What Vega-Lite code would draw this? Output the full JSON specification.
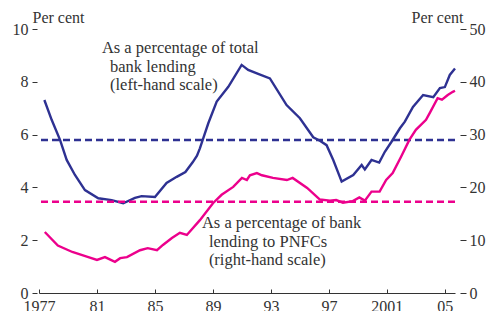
{
  "$schema": "https://vega.github.io/schema/vega-lite/v6.json",
  "width": 416,
  "height": 264,
  "autosize": {"type": "none"},
  "padding": {"left": 39, "top": 29, "right": 37, "bottom": 18},
  "background": "white",
  "config": {
    "view": {"stroke": null},
    "font": "Liberation Serif",
    "axis": {"labelFont": "Liberation Serif", "titleFont": "Liberation Serif", "labelColor": "#333", "titleColor": "#333", "tickColor": "#333", "domainColor": "#333", "grid": false, "labelFontSize": 16, "titleFontSize": 16, "titleFontWeight": "normal"}
  },
  "datasets": {
    "blue": [
      {"year": 1977.37, "v": 7.31}, {"year": 1977.88, "v": 6.55}, {"year": 1978.45, "v": 5.8}, {"year": 1978.91, "v": 5.04},
      {"year": 1979.48, "v": 4.47}, {"year": 1980.17, "v": 3.9}, {"year": 1981.09, "v": 3.59}, {"year": 1982.01, "v": 3.52},
      {"year": 1982.81, "v": 3.4}, {"year": 1983.62, "v": 3.6}, {"year": 1984.08, "v": 3.67}, {"year": 1985.0, "v": 3.64},
      {"year": 1985.8, "v": 4.17}, {"year": 1986.5, "v": 4.4}, {"year": 1987.1, "v": 4.58}, {"year": 1987.6, "v": 4.95},
      {"year": 1987.9, "v": 5.2}, {"year": 1988.1, "v": 5.48}, {"year": 1988.33, "v": 5.86}, {"year": 1988.68, "v": 6.43},
      {"year": 1989.26, "v": 7.25}, {"year": 1990.06, "v": 7.81}, {"year": 1990.98, "v": 8.64}, {"year": 1991.43, "v": 8.45},
      {"year": 1992.12, "v": 8.3}, {"year": 1992.93, "v": 8.13}, {"year": 1994.08, "v": 7.12}, {"year": 1995.0, "v": 6.62},
      {"year": 1995.92, "v": 5.9}, {"year": 1996.38, "v": 5.77}, {"year": 1996.84, "v": 5.6}, {"year": 1997.3, "v": 5.04},
      {"year": 1997.88, "v": 4.22}, {"year": 1998.68, "v": 4.47}, {"year": 1999.26, "v": 4.85}, {"year": 1999.48, "v": 4.68},
      {"year": 1999.94, "v": 5.04}, {"year": 2000.47, "v": 4.94}, {"year": 2000.86, "v": 5.35}, {"year": 2001.32, "v": 5.73},
      {"year": 2001.9, "v": 6.24}, {"year": 2002.24, "v": 6.49}, {"year": 2002.8, "v": 7.05}, {"year": 2003.5, "v": 7.5},
      {"year": 2004.2, "v": 7.42}, {"year": 2004.66, "v": 7.76}, {"year": 2005.0, "v": 7.8}, {"year": 2005.34, "v": 8.26},
      {"year": 2005.7, "v": 8.5}
    ],
    "pink": [
      {"year": 1977.4, "r": 11.55}, {"year": 1978.3, "r": 9.0}, {"year": 1979.3, "r": 7.77}, {"year": 1980.3, "r": 6.9},
      {"year": 1981.0, "r": 6.25}, {"year": 1981.55, "r": 6.8}, {"year": 1982.24, "r": 5.9}, {"year": 1982.6, "r": 6.6},
      {"year": 1983.07, "r": 6.8}, {"year": 1983.97, "r": 8.1}, {"year": 1984.5, "r": 8.5}, {"year": 1985.14, "r": 8.1},
      {"year": 1985.55, "r": 9.1}, {"year": 1986.17, "r": 10.4}, {"year": 1986.72, "r": 11.4}, {"year": 1987.2, "r": 11.0},
      {"year": 1988.1, "r": 13.8}, {"year": 1989.0, "r": 17.0}, {"year": 1989.6, "r": 18.6}, {"year": 1990.4, "r": 20.1},
      {"year": 1991.0, "r": 21.8}, {"year": 1991.34, "r": 21.4}, {"year": 1991.55, "r": 22.3}, {"year": 1992.03, "r": 22.7},
      {"year": 1992.38, "r": 22.3}, {"year": 1993.14, "r": 21.8}, {"year": 1994.1, "r": 21.4}, {"year": 1994.5, "r": 21.8},
      {"year": 1995.5, "r": 19.9}, {"year": 1996.38, "r": 17.7}, {"year": 1997.07, "r": 17.5}, {"year": 1997.5, "r": 17.6},
      {"year": 1997.97, "r": 17.1}, {"year": 1998.65, "r": 17.4}, {"year": 1999.1, "r": 18.1}, {"year": 1999.48, "r": 17.5},
      {"year": 1999.94, "r": 19.2}, {"year": 2000.5, "r": 19.2}, {"year": 2000.95, "r": 21.4}, {"year": 2001.4, "r": 22.7},
      {"year": 2001.98, "r": 25.8}, {"year": 2002.55, "r": 29.0}, {"year": 2003.0, "r": 30.9}, {"year": 2003.7, "r": 32.8},
      {"year": 2004.0, "r": 34.3}, {"year": 2004.5, "r": 36.9}, {"year": 2004.8, "r": 36.6}, {"year": 2005.2, "r": 37.5},
      {"year": 2005.55, "r": 38.1}, {"year": 2005.7, "r": 38.3}
    ],
    "notes": [
      {"year": 1981.34, "v": 9.09, "label": "As a percentage of total"},
      {"year": 1981.9, "v": 8.37, "label": "bank lending"},
      {"year": 1981.9, "v": 7.69, "label": "(left-hand scale)"},
      {"year": 1988.24, "v": 2.46, "label": "As a percentage of bank"},
      {"year": 1988.72, "v": 1.74, "label": "lending to PNFCs"},
      {"year": 1988.72, "v": 1.06, "label": "(right-hand scale)"}
    ]
  },
  "layer": [
    {
      "layer": [
        {
          "data": {"name": "blue"},
          "mark": {"type": "line", "color": "#2e3192", "strokeWidth": 2.4},
          "encoding": {
            "x": {"field": "year", "type": "quantitative", "scale": {"domain": [1977, 2005.7], "nice": false, "zero": false},
              "axis": {"title": null, "values": [1977,1978,1979,1980,1981,1982,1983,1984,1985,1986,1987,1988,1989,1990,1991,1992,1993,1994,1995,1996,1997,1998,1999,2000,2001,2002,2003,2004,2005],
                "format": "d", "labelExpr": "datum.value % 4 == 1 ? ((datum.value == 1977 || datum.value == 2001) ? datum.label : slice(datum.label, 2)) : ''",
                "tickSize": -4, "labelPadding": 9, "labelOverlap": false, "labelFlush": false, "labelBaseline": "top"}},
            "y": {"field": "v", "type": "quantitative", "scale": {"domain": [0, 10], "nice": false},
              "axis": {"title": "Per cent", "titleAngle": 0, "titleX": -5, "titleY": -7, "titleAlign": "left", "titleBaseline": "alphabetic",
                "values": [0, 2, 4, 6, 8, 10], "domain": false, "offset": 2, "tickSize": 5, "labelPadding": 4}}
          }
        },
        {
          "data": {"values": [{"v": 5.8}]},
          "mark": {"type": "rule", "color": "#2e3192", "strokeWidth": 2.5, "strokeDash": [7, 4]},
          "encoding": {"y": {"field": "v", "type": "quantitative", "scale": {"domain": [0, 10], "nice": false}}}
        },
        {
          "data": {"name": "notes"},
          "mark": {"type": "text", "align": "left", "baseline": "alphabetic", "font": "Liberation Serif", "fontSize": 16.5, "color": "#333"},
          "encoding": {
            "x": {"field": "year", "type": "quantitative", "scale": {"domain": [1977, 2005.7], "nice": false, "zero": false}},
            "y": {"field": "v", "type": "quantitative", "scale": {"domain": [0, 10], "nice": false}},
            "text": {"field": "label"}
          }
        }
      ]
    },
    {
      "layer": [
        {
          "data": {"name": "pink"},
          "mark": {"type": "line", "color": "#ec008c", "strokeWidth": 2.4},
          "encoding": {
            "x": {"field": "year", "type": "quantitative", "scale": {"domain": [1977, 2005.7], "nice": false, "zero": false}},
            "y": {"field": "r", "type": "quantitative", "scale": {"domain": [0, 50], "nice": false},
              "axis": {"orient": "right", "title": "Per cent", "titleAngle": 0, "titleX": 3, "titleY": -7, "titleAlign": "right", "titleBaseline": "alphabetic",
                "values": [0, 10, 20, 30, 40, 50], "domain": false, "offset": 5, "tickSize": 6, "labelPadding": 3}}
          }
        },
        {
          "data": {"values": [{"r": 17.3}]},
          "mark": {"type": "rule", "color": "#ec008c", "strokeWidth": 2.5, "strokeDash": [7, 4]},
          "encoding": {"y": {"field": "r", "type": "quantitative", "scale": {"domain": [0, 50], "nice": false}}}
        }
      ]
    }
  ],
  "resolve": {"scale": {"y": "independent"}}
}
